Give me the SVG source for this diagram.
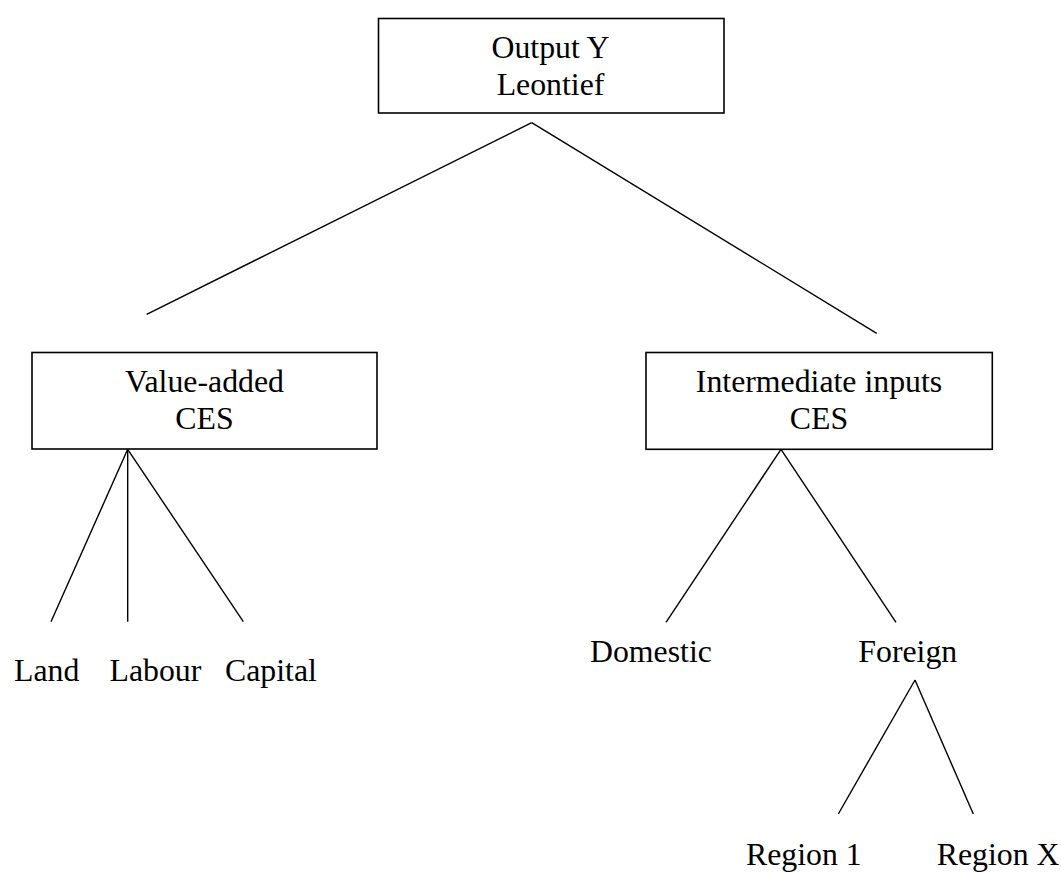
<svg xmlns="http://www.w3.org/2000/svg" width="1061" height="872" viewBox="0 0 1061 872">
<style>
.box{fill:#fff;stroke:#000;stroke-width:1.6}
.t{font-family:"Liberation Serif","Times New Roman",serif;font-size:31.8px;fill:#000}
.c{text-anchor:middle}
.ln{stroke:#000;stroke-width:1.4;fill:none}
</style>
<rect width="1061" height="872" fill="#fff"/>
<g id="connectors">
<line class="ln" x1="531.7" y1="122.7" x2="146.7" y2="314.3"/>
<line class="ln" x1="531.7" y1="122.7" x2="876.7" y2="333.3"/>
<line class="ln" x1="127.7" y1="449.3" x2="51" y2="621.7"/>
<line class="ln" x1="127.7" y1="449.3" x2="127.7" y2="621.7"/>
<line class="ln" x1="127.7" y1="449.3" x2="243.3" y2="621.7"/>
<line class="ln" x1="781" y1="449.3" x2="666" y2="622.3"/>
<line class="ln" x1="781" y1="449.3" x2="896" y2="622.3"/>
<line class="ln" x1="915" y1="680" x2="838.3" y2="814"/>
<line class="ln" x1="915" y1="680" x2="973.3" y2="814"/>
</g>
<g id="output">
<rect class="box" x="378.5" y="18.5" width="345.5" height="94.5"/>
<text class="t c" x="550.5" y="58.3">Output Y</text>
<text class="t c" x="550.5" y="95">Leontief</text>
</g>
<g id="valueadded">
<rect class="box" x="32" y="352.5" width="345" height="96.5"/>
<text class="t c" x="204.5" y="392.3">Value-added</text>
<text class="t c" x="204.5" y="429.3">CES</text>
</g>
<g id="intermediate">
<rect class="box" x="646" y="352.5" width="346.3" height="96.8"/>
<text class="t c" x="819" y="392.3">Intermediate inputs</text>
<text class="t c" x="819" y="429.3">CES</text>
</g>
<g id="land"><text class="t" x="14" y="680.7">Land</text></g>
<g id="labour"><text class="t" x="109.5" y="680.7">Labour</text></g>
<g id="capital"><text class="t" x="225" y="680.7">Capital</text></g>
<g id="domestic"><text class="t" x="590" y="661.7">Domestic</text></g>
<g id="foreign"><text class="t" x="858.3" y="661.7">Foreign</text></g>
<g id="region1"><text class="t" x="746" y="865">Region 1</text></g>
<g id="regionx"><text class="t" x="936.7" y="865">Region X</text></g>
</svg>
